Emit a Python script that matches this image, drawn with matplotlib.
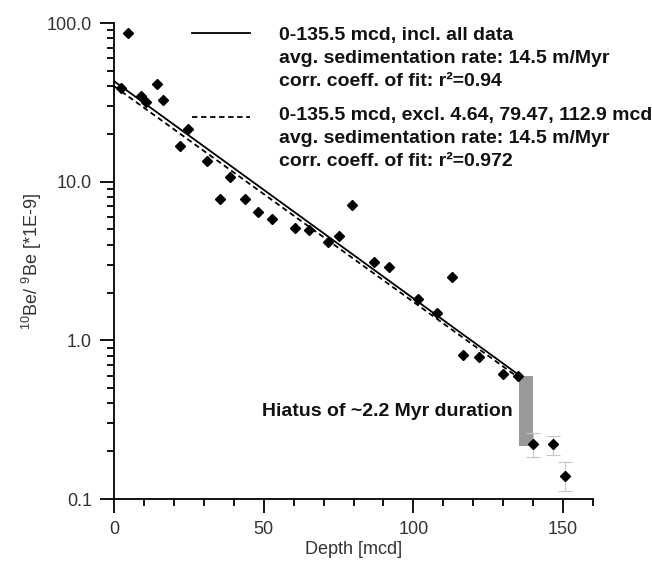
import numpy as np
import matplotlib.pyplot as plt
from matplotlib.ticker import FixedLocator, FixedFormatter, NullFormatter

plt.rcParams['font.family'] = ['Liberation Sans', 'DejaVu Sans']
plt.rcParams['mathtext.default'] = 'regular'

# 10Be/9Be ratios vs depth
depth = [2.3, 4.64, 8.9, 10.7, 14.4, 16.3, 22.0, 24.8, 30.9, 35.3, 38.9, 43.7,
         48.1, 52.9, 60.6, 65.1, 71.4, 75.0, 79.47, 86.7, 91.7, 101.7, 107.9,
         112.9, 116.7, 122.0, 130.0, 135.0]
ratio = [39.0, 86.5, 34.8, 31.9, 41.3, 32.7, 16.8, 21.5, 13.5, 7.8, 10.7, 7.8,
         6.44, 5.82, 5.1, 4.94, 4.15, 4.53, 7.16, 3.1, 2.91, 1.82, 1.49,
         2.5, 0.81, 0.79, 0.61, 0.60]

# samples below the hiatus, with error bars
deep_depth = [140.0, 146.7, 150.6]
deep_ratio = [0.221, 0.221, 0.14]
deep_lo = [0.185, 0.19, 0.113]
deep_hi = [0.259, 0.25, 0.17]

# fitted lines (end points)
fit_x = [0, 135.5]
fit_all = [43.0, 0.60]
fit_excl = [40.0, 0.575]

# hiatus bar
hiatus_x = [135.2, 139.8]
hiatus_y = [0.216, 0.60]

legend_all = ['0-135.5 mcd, incl. all data',
              'avg. sedimentation rate: 14.5 m/Myr',
              'corr. coeff. of fit: r\u00b2=0.94']
legend_excl = ['0-135.5 mcd, excl. 4.64, 79.47, 112.9 mcd',
               'avg. sedimentation rate: 14.5 m/Myr',
               'corr. coeff. of fit: r\u00b2=0.972']

fig = plt.figure(figsize=(6.52, 5.63), dpi=100)
ax = fig.add_axes([114/652, 1 - 499/563, 479/652, 476/563])

ax.fill_between(hiatus_x, hiatus_y[0], hiatus_y[1], color='#999999', lw=0, zorder=1)

ax.plot(fit_x, fit_all, color='black', lw=1.3, zorder=2)
ax.plot(fit_x, fit_excl, color='black', lw=1.3, dashes=(3, 2), zorder=2)

yerr = [np.array(deep_ratio) - np.array(deep_lo), np.array(deep_hi) - np.array(deep_ratio)]
ax.errorbar(deep_depth, deep_ratio, yerr=yerr, fmt='none',
            ecolor='#c8c8c8', elinewidth=0.8, capsize=5, capthick=0.8, zorder=2)

ax.plot(depth, ratio, 'D', color='black', ms=4.6, zorder=3)
ax.plot(deep_depth, deep_ratio, 'D', color='black', ms=4.6, zorder=3)

ax.set_yscale('log')
ax.set_xlim(0, 160)
ax.set_ylim(0.1, 100)

for s in ['top', 'right']:
    ax.spines[s].set_visible(False)
for s in ['left', 'bottom']:
    ax.spines[s].set_linewidth(1.3)

ax.xaxis.set_major_locator(FixedLocator([0, 50, 100, 150]))
ax.xaxis.set_minor_locator(FixedLocator([10, 20, 30, 40, 60, 70, 80, 90,
                                         110, 120, 130, 140, 160]))
ax.yaxis.set_major_locator(FixedLocator([0.1, 1, 10, 100]))
ax.yaxis.set_major_formatter(FixedFormatter(['0.1', '1.0', '10.0', '100.0']))
minors = []
for dec in [0.1, 1, 10]:
    minors += [dec * k for k in range(2, 10)]
ax.yaxis.set_minor_locator(FixedLocator(minors))
ax.yaxis.set_minor_formatter(NullFormatter())

ax.tick_params(which='major', length=10, width=1.3, labelsize=13,
               labelcolor='#333333', pad=6)
ax.tick_params(which='minor', length=5, width=1.3)

ax.set_xlabel('Depth [mcd]', fontsize=13, color='#333333', labelpad=2)
ax.set_ylabel('$^{10}$Be/ $^{9}$Be [*1E-9]', fontsize=13, color='#333333', labelpad=2)

# legend drawn by hand
ax.plot([0.163, 0.284], [0.979, 0.979], transform=ax.transAxes, color='black',
        lw=1.3, clip_on=False)
ax.plot([0.163, 0.284], [0.8025, 0.8025], transform=ax.transAxes, color='black',
        lw=1.3, dashes=(3, 2), clip_on=False)
for i, line in enumerate(legend_all):
    ax.text(0.344, 0.973 - i * 0.0475, line, transform=ax.transAxes,
            fontsize=14, fontweight='bold', va='center', ha='left', color='#111111')
for i, line in enumerate(legend_excl):
    ax.text(0.344, 0.805 - i * 0.0485, line, transform=ax.transAxes,
            fontsize=14, fontweight='bold', va='center', ha='left', color='#111111')

ax.text(133.2, 0.356, 'Hiatus of ~2.2 Myr duration', fontsize=14, fontweight='bold',
        ha='right', va='center', color='#111111')

fig.savefig('out.png', dpi=100)
